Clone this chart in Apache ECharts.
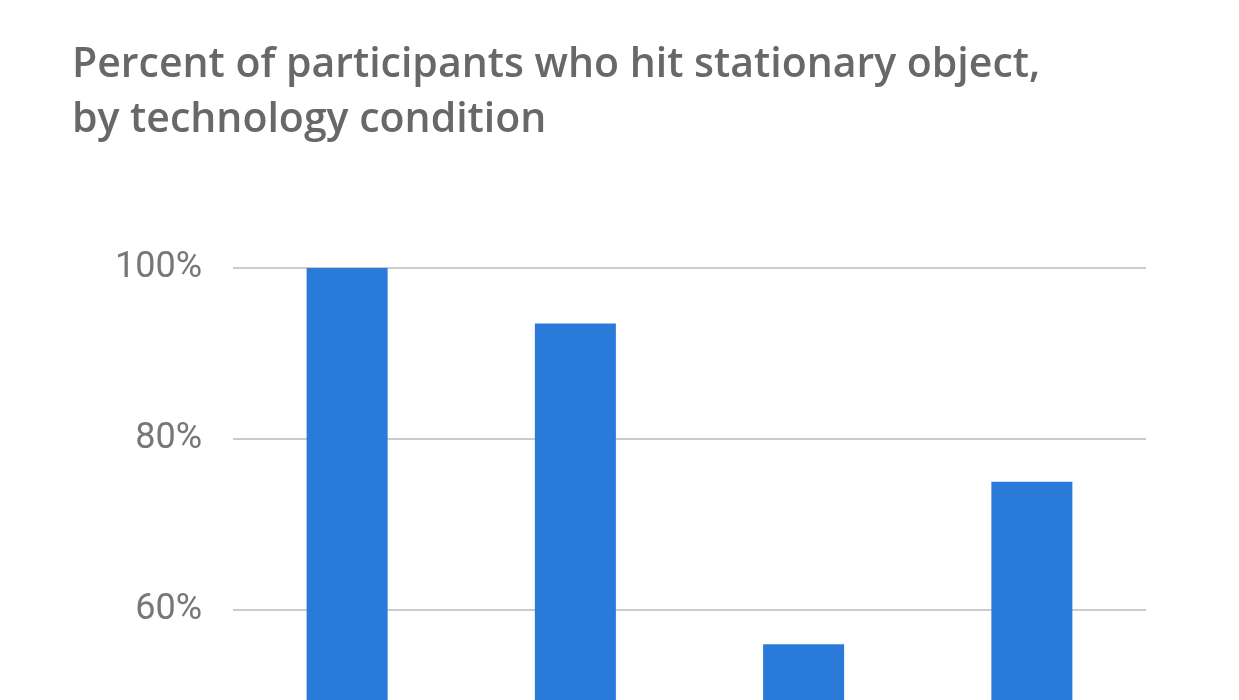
<!DOCTYPE html>
<html>
<head>
<meta charset="utf-8">
<script src="https://cdn.jsdelivr.net/npm/echarts@6/dist/echarts.min.js"></script>
<style>
html,body{margin:0;padding:0;background:#fff;overflow:hidden;}
#chart{width:1239px;height:1250px;}
</style>
</head>
<body>
<div id="chart"></div>
<script>
const titleText = 'Percent of participants who hit stationary object,\nby technology condition';
const categories = ['Smartphone', 'Google Glass', 'Head-up display', 'Voice control'];
const hitPercent = [100, 93.5, 56, 75];
const yTicks = [0, 20, 40, 60, 80, 100];

const chart = echarts.init(document.getElementById('chart'), null, {renderer: 'canvas'});
chart.setOption({
  animation: false,
  backgroundColor: '#ffffff',
  title: {
    text: titleText,
    left: 67,
    top: 33,
    textStyle: {
      fontFamily: 'Open Sans',
      fontSize: 41,
      fontWeight: 600,
      color: '#686868',
      lineHeight: 55
    }
  },
  grid: {left: 233, right: 93, top: 268, bottom: 127, containLabel: false},
  xAxis: {
    type: 'category',
    data: categories,
    axisLine: {show: true, lineStyle: {color: '#333'}},
    axisTick: {show: false},
    axisLabel: {fontFamily: 'Roboto', fontSize: 28, color: '#777'}
  },
  yAxis: {
    type: 'value',
    min: yTicks[0],
    max: yTicks[yTicks.length - 1],
    interval: 20,
    axisLine: {show: false},
    axisTick: {show: false},
    splitLine: {lineStyle: {color: '#cccccc', width: 2}},
    axisLabel: {
      formatter: v => v + '%',
      fontFamily: 'Roboto',
      fontSize: 36,
      color: '#777777',
      margin: 31,
      padding: [14, 0, 0, 0]
    }
  },
  series: [{
    type: 'bar',
    data: hitPercent,
    barWidth: '35.5%',
    itemStyle: {color: '#2a7bd9'}
  }]
});
</script>
</body>
</html>
